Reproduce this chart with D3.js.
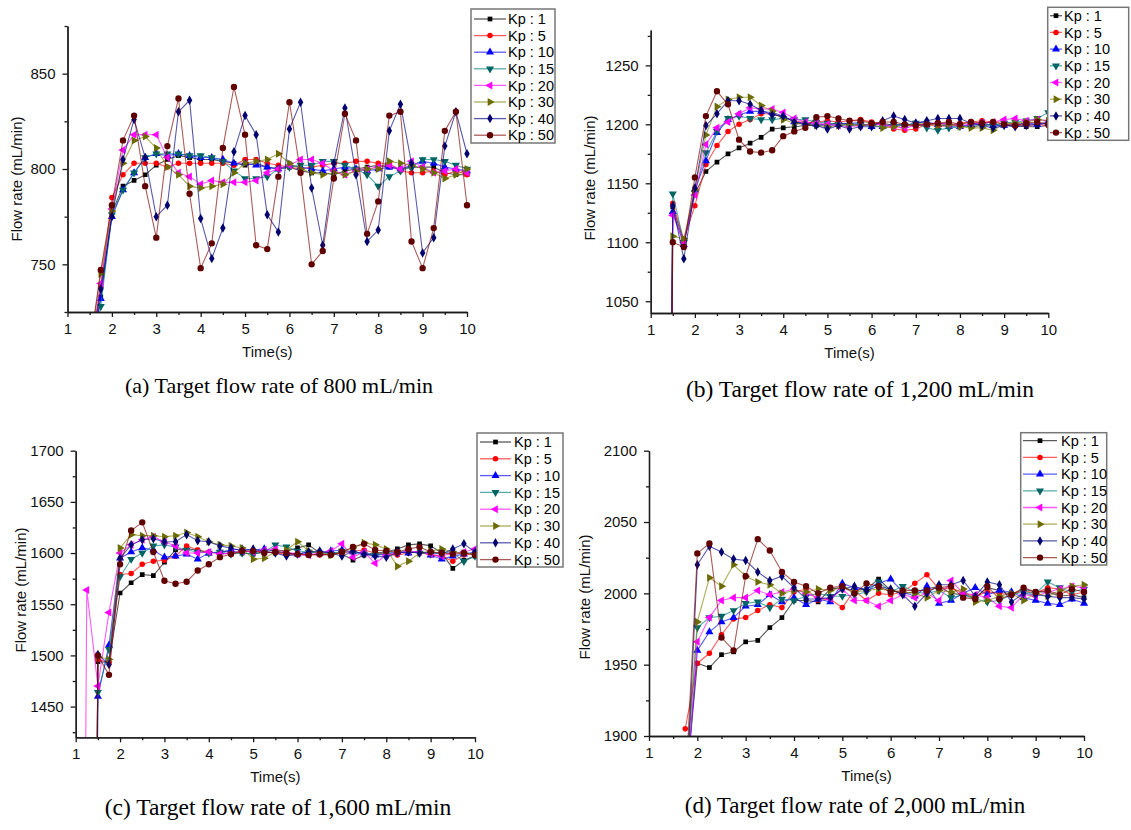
<!DOCTYPE html>
<html>
<head>
<meta charset="utf-8">
<script src="https://cdn.jsdelivr.net/npm/d3@7"></script>
<style>
  body { margin: 0; background: #ffffff; }
  svg { display: block; }
</style>
</head>
<body>
<div id="chart"></div>
<script>
// series names, one per Kp gain
var kpLabels = ["Kp : 1", "Kp : 5", "Kp : 10", "Kp : 15", "Kp : 20", "Kp : 30", "Kp : 40", "Kp : 50"];

// (a) target 800 mL/min
var timeA = [1.5, 1.75, 2, 2.25, 2.5, 2.75, 3, 3.25, 3.5, 3.75, 4, 4.25, 4.5, 4.75, 5, 5.25, 5.5, 5.75,
             6, 6.25, 6.5, 6.75, 7, 7.25, 7.5, 7.75, 8, 8.25, 8.5, 8.75, 9, 9.25, 9.5, 9.75, 10];
var flow800 = [
  [700, 733, 777, 791, 794, 797, 802, 805, 807, 806, 805, 805, 804, 803, 802, 803, 801, 800, 801, 799, 798, 798, 797, 799, 800, 801, 802, 801, 800, 801, 801, 801, 798, 797, 797],
  [702, 738, 785, 797, 803, 803, 803, 801, 803, 803, 803, 803, 803, 802, 805, 805, 803, 802, 801, 800, 801, 802, 803, 803, 804, 804, 803, 803, 799, 798, 798, 799, 797, 799, 797],
  [698, 732, 775, 789, 798, 806, 808, 807, 808, 807, 806, 806, 805, 803, 803, 802, 801, 800, 802, 801, 800, 799, 800, 801, 800, 799, 800, 801, 800, 802, 804, 803, 801, 800, 799],
  [696, 728, 776, 789, 798, 806, 808, 808, 808, 807, 807, 806, 804, 799, 795, 795, 796, 800, 801, 802, 802, 804, 804, 802, 800, 797, 791, 796, 799, 801, 805, 805, 804, 802, 800],
  [703, 740, 779, 810, 818, 818, 818, 806, 798, 796, 792, 794, 793, 793, 793, 794, 798, 800, 802, 805, 805, 803, 799, 797, 799, 800, 801, 802, 800, 804, 801, 798, 799, 800, 798],
  [705, 745, 778, 803, 815, 817, 811, 801, 797, 791, 790, 791, 792, 798, 803, 804, 805, 808, 803, 800, 798, 797, 798, 797, 799, 800, 800, 804, 803, 802, 800, 798, 795, 797, 800],
  [700, 737, 775, 805, 826, 806, 775, 781, 830, 836, 774, 753, 769, 809, 828, 818, 776, 767, 821, 835, 790, 760, 803, 832, 797, 762, 768, 820, 834, 803, 756, 764, 812, 830, 808],
  [706, 747, 781, 815, 828, 791, 764, 812, 837, 787, 748, 761, 811, 843, 818, 760, 758, 796, 835, 798, 750, 757, 795, 829, 815, 766, 783, 828, 830, 762, 748, 769, 820, 830, 781]
];

// (b) target 1,200 mL/min
var timeB = [1.25, 1.5, 1.75, 2, 2.25, 2.5, 2.75, 3, 3.25, 3.5, 3.75, 4, 4.25, 4.5, 4.75, 5, 5.25, 5.5, 5.75,
             6, 6.25, 6.5, 6.75, 7, 7.25, 7.5, 7.75, 8, 8.25, 8.5, 8.75, 9, 9.25, 9.5, 9.75, 10];
var flow1200 = [
  [0, 1130, 1100, 1141, 1160, 1168, 1175, 1180, 1184, 1189, 1196, 1197, 1198, 1199, 1199, 1200, 1201, 1200, 1199, 1200, 1201, 1199, 1200, 1199, 1200, 1201, 1200, 1199, 1198, 1199, 1200, 1199, 1199, 1198, 1198, 1199],
  [0, 1133, 1102, 1131, 1166, 1182, 1194, 1200, 1204, 1209, 1209, 1206, 1203, 1201, 1202, 1203, 1202, 1203, 1204, 1202, 1200, 1196, 1195, 1196, 1200, 1198, 1199, 1201, 1202, 1203, 1202, 1202, 1200, 1199, 1200, 1199],
  [0, 1126, 1098, 1145, 1169, 1193, 1204, 1208, 1211, 1211, 1210, 1207, 1202, 1201, 1200, 1199, 1200, 1201, 1201, 1198, 1198, 1200, 1199, 1201, 1202, 1200, 1198, 1198, 1200, 1201, 1199, 1199, 1200, 1201, 1200, 1201],
  [0, 1141, 1100, 1142, 1176, 1194, 1205, 1207, 1205, 1204, 1204, 1205, 1204, 1204, 1202, 1201, 1200, 1199, 1200, 1199, 1198, 1200, 1199, 1201, 1197, 1195, 1197, 1198, 1199, 1200, 1199, 1201, 1202, 1203, 1205, 1210],
  [0, 1123, 1100, 1140, 1183, 1197, 1202, 1209, 1214, 1213, 1213, 1210, 1205, 1202, 1201, 1200, 1199, 1198, 1199, 1200, 1200, 1198, 1197, 1199, 1200, 1201, 1200, 1199, 1200, 1201, 1202, 1204, 1205, 1203, 1204, 1203],
  [0, 1105, 1103, 1145, 1191, 1215, 1221, 1223, 1223, 1216, 1211, 1204, 1201, 1200, 1199, 1198, 1199, 1200, 1199, 1200, 1197, 1198, 1199, 1200, 1201, 1199, 1200, 1198, 1197, 1197, 1195, 1200, 1201, 1202, 1204, 1203],
  [0, 1131, 1086, 1146, 1199, 1209, 1220, 1220, 1217, 1212, 1208, 1207, 1202, 1200, 1199, 1196, 1199, 1196, 1198, 1198, 1203, 1207, 1204, 1201, 1203, 1205, 1205, 1205, 1201, 1199, 1197, 1199, 1198, 1199, 1200, 1202],
  [0, 1100, 1096, 1155, 1207, 1228, 1217, 1187, 1177, 1176, 1178, 1190, 1194, 1197, 1206, 1207, 1205, 1203, 1203, 1201, 1202, 1202, 1200, 1199, 1200, 1201, 1202, 1200, 1202, 1201, 1202, 1200, 1199, 1201, 1202, 1200]
];

// (c) target 1,600 mL/min
var timeC = [1, 1.25, 1.5, 1.75, 2, 2.25, 2.5, 2.75, 3, 3.25, 3.5, 3.75, 4, 4.25, 4.5, 4.75, 5, 5.25, 5.5, 5.75,
             6, 6.25, 6.5, 6.75, 7, 7.25, 7.5, 7.75, 8, 8.25, 8.5, 8.75, 9, 9.25, 9.5, 9.75, 10];
var flow1600 = [
  [0, 0, 1494, 1493, 1561, 1571, 1579, 1578, 1591, 1603, 1604, 1603, 1600, 1601, 1602, 1600, 1599, 1601, 1603, 1602, 1605, 1608, 1600, 1601, 1599, 1593, 1598, 1600, 1601, 1604, 1608, 1609, 1607, 1600, 1585, 1593, 1597],
  [0, 0, 1496, 1493, 1579, 1580, 1589, 1592, 1593, 1597, 1607, 1603, 1601, 1600, 1599, 1601, 1602, 1601, 1600, 1599, 1598, 1599, 1598, 1599, 1600, 1602, 1603, 1600, 1599, 1598, 1600, 1601, 1598, 1597, 1592, 1598, 1600],
  [0, 0, 1460, 1510, 1595, 1601, 1605, 1603, 1596, 1597, 1599, 1594, 1600, 1601, 1603, 1604, 1603, 1604, 1602, 1600, 1599, 1601, 1600, 1602, 1603, 1601, 1600, 1598, 1599, 1601, 1600, 1602, 1598, 1594, 1597, 1599, 1601],
  [0, 0, 1464, 1506, 1577, 1594, 1600, 1607, 1608, 1606, 1603, 1601, 1600, 1601, 1599, 1600, 1599, 1601, 1608, 1606, 1602, 1601, 1600, 1599, 1602, 1600, 1599, 1598, 1600, 1601, 1602, 1600, 1599, 1601, 1600, 1592, 1597],
  [0, 1564, 1470, 1542, 1600, 1608, 1613, 1616, 1611, 1607, 1600, 1600, 1601, 1599, 1600, 1602, 1601, 1603, 1604, 1601, 1599, 1598, 1600, 1602, 1609, 1596, 1601, 1590, 1598, 1600, 1602, 1601, 1599, 1597, 1600, 1601, 1604],
  [0, 0, 1499, 1496, 1605, 1618, 1617, 1617, 1616, 1617, 1620, 1616, 1611, 1608, 1607, 1605, 1594, 1595, 1601, 1603, 1611, 1602, 1600, 1598, 1601, 1605, 1610, 1608, 1604, 1587, 1592, 1600, 1602, 1604, 1601, 1600, 1599],
  [0, 0, 1501, 1491, 1595, 1608, 1613, 1614, 1611, 1611, 1618, 1612, 1611, 1607, 1605, 1602, 1604, 1601, 1600, 1597, 1599, 1601, 1602, 1600, 1597, 1602, 1599, 1597, 1596, 1600, 1601, 1600, 1601, 1599, 1604, 1609, 1601],
  [0, 0, 1500, 1481, 1589, 1622, 1630, 1601, 1573, 1570, 1572, 1583, 1589, 1596, 1599, 1602, 1602, 1600, 1601, 1600, 1599, 1598, 1599, 1598, 1601, 1606, 1609, 1603, 1602, 1601, 1604, 1606, 1601, 1600, 1599, 1600, 1598]
];

// (d) target 2,000 mL/min
var timeD = [1.75, 2, 2.25, 2.5, 2.75, 3, 3.25, 3.5, 3.75, 4, 4.25, 4.5, 4.75, 5, 5.25, 5.5, 5.75,
             6, 6.25, 6.5, 6.75, 7, 7.25, 7.5, 7.75, 8, 8.25, 8.5, 8.75, 9, 9.25, 9.5, 9.75, 10];
var flow2000 = [
  [1860, 1951, 1948, 1957, 1959, 1966, 1967, 1976, 1983, 1995, 1995, 1994, 2003, 2004, 2002, 2003, 2010, 2002, 2000, 2001, 2003, 2005, 2000, 1999, 1997, 2004, 2002, 1999, 2003, 2001, 2001, 1998, 1999, 1997],
  [1905, 1951, 1958, 1971, 1982, 1983, 1988, 1992, 1990, 2001, 2003, 1995, 1996, 1990, 2002, 1995, 2000, 1999, 2001, 2007, 2013, 2003, 2004, 2000, 1998, 2001, 2000, 1999, 2002, 2000, 2004, 2003, 1999, 2001],
  [1855, 1960, 1973, 1980, 1983, 1991, 1992, 1999, 1994, 1997, 1992, 1996, 1994, 2007, 2004, 2003, 2007, 2010, 2001, 1998, 2005, 1993, 1995, 2000, 2004, 1999, 2002, 2001, 1997, 1995, 1993, 1992, 1996, 1993],
  [1862, 1976, 1983, 1984, 1988, 1993, 1994, 1990, 1996, 1995, 1998, 2000, 1998, 1998, 1999, 2001, 2008, 2001, 2005, 2001, 2000, 2002, 1997, 1999, 1996, 1994, 1995, 1999, 2001, 2000, 2008, 2004, 2001, 2003],
  [1850, 1966, 1983, 1995, 1997, 1997, 2002, 1999, 2001, 2003, 2000, 1997, 1996, 2003, 1995, 1995, 1991, 1995, 1999, 1997, 2000, 1995, 2009, 2000, 1999, 1997, 1991, 1990, 1999, 1998, 2001, 2003, 2005, 2004],
  [1865, 1980, 2011, 2005, 2020, 2012, 2008, 2006, 2000, 2002, 2001, 2003, 2002, 2004, 2001, 2002, 2003, 2002, 2001, 2000, 1997, 2002, 2001, 2003, 1994, 1995, 1998, 2000, 1995, 2000, 1998, 2002, 2005, 2006],
  [1845, 2020, 2033, 2029, 2024, 2023, 2015, 2009, 2012, 2004, 1996, 1996, 1997, 2003, 2005, 2002, 2005, 2003, 1999, 1991, 2000, 2006, 2006, 2009, 1998, 2008, 2006, 1994, 2000, 1999, 1998, 1997, 1997, 1996],
  [1860, 2028, 2035, 1969, 1960, 2012, 2038, 2030, 2015, 2008, 2005, 2000, 2004, 2005, 2000, 2007, 2005, 2001, 2002, 2002, 2002, 2004, 2005, 1997, 1996, 2005, 1996, 1999, 2004, 2001, 2002, 1999, 2003, 2001]
];

// axis ticks
var xTicks = [1, 2, 3, 4, 5, 6, 7, 8, 9, 10];
var xMinor = [1.5, 2.5, 3.5, 4.5, 5.5, 6.5, 7.5, 8.5, 9.5];
var yTicksA = [750, 800, 850];
var yMinorA = [725, 775, 825, 875];
var yTicksB = [1050, 1100, 1150, 1200, 1250];
var yMinorB = [1075, 1125, 1175, 1225, 1275];
var yTicksC = [1450, 1500, 1550, 1600, 1650, 1700];
var yMinorC = [1425, 1475, 1525, 1575, 1625, 1675];
var yTicksD = [1900, 1950, 2000, 2050, 2100];
var yMinorD = [1925, 1975, 2025, 2075];

var lineColors = ["#000000", "#ff0000", "#0000ff", "#008080", "#ff00ff", "#808000", "#000080", "#800000"];
var markColors = ["#000000", "#ff0000", "#0000ff", "#006464", "#ff00ff", "#6b6b00", "#000070", "#600000"];
var markShapes = [
  {type: d3.symbolSquare, size: 22, rot: 0},
  {type: d3.symbolCircle, size: 24, rot: 0},
  {type: d3.symbolTriangle, size: 28, rot: 0},
  {type: d3.symbolTriangle, size: 28, rot: 180},
  {type: d3.symbolTriangle, size: 28, rot: -90},
  {type: d3.symbolTriangle, size: 28, rot: 90},
  {type: d3.symbolDiamond, size: 26, rot: 0},
  {type: d3.symbolCircle, size: 32, rot: 0}
];

var panels = [
  {times: timeA, series: flow800, yDomain: [725, 875], yTicks: yTicksA, yMinor: yMinorA,
   left: 67.5, right: 467, bottom: 312, top: 26,
   legend: {x: 471, y: 9, w: 84, h: 134, l0: 474, l1: 506, tx: 508, row0: 19, step: 16.6},
   titleX: 17, titleY: 179, caption: "(a) Target flow rate of 800 mL/min", capX: 279, capY: 393, capSize: 22},
  {times: timeB, series: flow1200, yDomain: [1040, 1280], yTicks: yTicksB, yMinor: yMinorB,
   left: 650.7, right: 1048.3, bottom: 313, top: 30,
   legend: {x: 1047.7, y: 7.3, w: 81, h: 133, l0: 1050, l1: 1062, tx: 1064, row0: 15.7, step: 16.7},
   titleX: 590, titleY: 178, caption: "(b) Target flow rate of 1,200 mL/min", capX: 860, capY: 397, capSize: 23.5},
  {times: timeC, series: flow1600, yDomain: [1420, 1700], yTicks: yTicksC, yMinor: yMinorC,
   left: 75.7, right: 475, bottom: 737.3, top: 450.7,
   legend: {x: 477, y: 433, w: 86, h: 134, l0: 480, l1: 511, tx: 514, row0: 442, step: 16.8},
   titleX: 21, titleY: 590, caption: "(c) Target flow rate of 1,600 mL/min", capX: 278, capY: 815, capSize: 23.5},
  {times: timeD, series: flow2000, yDomain: [1900, 2100], yTicks: yTicksD, yMinor: yMinorD,
   left: 649, right: 1084, bottom: 736, top: 450.7,
   legend: {x: 1020.7, y: 432.7, w: 86, h: 132.3, l0: 1023, l1: 1057, tx: 1061, row0: 440.7, step: 16.7},
   titleX: 585, titleY: 597, caption: "(d) Target flow rate of 2,000 mL/min", capX: 855, capY: 813, capSize: 23}
];

var svg = d3.select("#chart")
            .append("svg")
            .attr("width", 1131)
            .attr("height", 830);

function symbolPath(i) {
  return d3.symbol().type(markShapes[i].type).size(markShapes[i].size)();
}

var sansFont = "Arial, 'Liberation Sans', sans-serif";

panels.forEach(function(p, pi) {
  var x = d3.scaleLinear().domain([1, 10]).range([p.left, p.right]);
  var y = d3.scaleLinear().domain(p.yDomain).range([p.bottom, p.top]);

  var g = svg.append("g");

  svg.append("clipPath")
     .attr("id", "clip" + pi)
     .append("rect")
     .attr("x", p.left)
     .attr("y", p.top)
     .attr("width", p.right - p.left + 4)
     .attr("height", p.bottom - p.top);

  var plot = g.append("g").attr("clip-path", "url(#clip" + pi + ")");

  var line = d3.line()
               .x(function(d) { return x(d[0]); })
               .y(function(d) { return y(d[1]); });

  p.series.forEach(function(vals, si) {
    var pts = vals.map(function(v, k) { return [p.times[k], v]; });
    plot.append("path")
        .datum(pts)
        .attr("d", line)
        .attr("fill", "none")
        .attr("stroke", lineColors[si])
        .attr("stroke-opacity", 0.65)
        .attr("stroke-width", 1.1);
    plot.selectAll(null)
        .data(pts)
        .enter()
        .append("path")
        .attr("d", symbolPath(si))
        .attr("transform", function(d) {
          return "translate(" + x(d[0]) + "," + y(d[1]) + ") rotate(" + markShapes[si].rot + ")";
        })
        .attr("fill", markColors[si]);
  });

  // axes, major and minor ticks
  g.append("g")
   .attr("transform", "translate(0," + p.bottom + ")")
   .call(d3.axisBottom(x).tickValues(xTicks).tickFormat(d3.format("d"))
           .tickSize(5).tickPadding(6).tickSizeOuter(0));
  g.append("g")
   .attr("transform", "translate(0," + p.bottom + ")")
   .call(d3.axisBottom(x).tickValues(xMinor).tickSize(3).tickFormat("").tickSizeOuter(0));
  g.append("g")
   .attr("transform", "translate(" + p.left + ",0)")
   .call(d3.axisLeft(y).tickValues(p.yTicks).tickFormat(d3.format("d"))
           .tickSize(5).tickPadding(7).tickSizeOuter(0));
  g.append("g")
   .attr("transform", "translate(" + p.left + ",0)")
   .call(d3.axisLeft(y).tickValues(p.yMinor).tickSize(3).tickFormat("").tickSizeOuter(0));

  g.selectAll(".domain, .tick line")
   .attr("stroke", "#1a1a1a")
   .attr("stroke-width", 1.3);
  g.selectAll(".tick text")
   .attr("fill", "#111")
   .style("font-family", sansFont)
   .style("font-size", "15px");

  g.append("text")
   .attr("x", (p.left + p.right) / 2)
   .attr("y", p.bottom + 45)
   .attr("text-anchor", "middle")
   .style("font-family", sansFont)
   .style("font-size", "15px")
   .attr("fill", "#111")
   .text("Time(s)");

  g.append("text")
   .attr("transform", "translate(" + p.titleX + "," + p.titleY + ") rotate(-90)")
   .attr("text-anchor", "middle")
   .attr("dy", "0.35em")
   .style("font-family", sansFont)
   .style("font-size", "15px")
   .attr("fill", "#111")
   .text("Flow rate (mL/min)");

  g.append("text")
   .attr("x", p.capX)
   .attr("y", p.capY)
   .attr("text-anchor", "middle")
   .style("font-family", "'Liberation Serif', 'Times New Roman', serif")
   .style("font-size", p.capSize + "px")
   .attr("fill", "#000")
   .text(p.caption);

  // legend
  var L = p.legend;
  var leg = g.append("g");
  leg.append("rect")
     .attr("x", L.x)
     .attr("y", L.y)
     .attr("width", L.w)
     .attr("height", L.h)
     .attr("fill", "#fff")
     .attr("stroke", "#777")
     .attr("stroke-width", 1.5);
  kpLabels.forEach(function(lab, si) {
    var ry = L.row0 + si * L.step;
    leg.append("line")
       .attr("x1", L.l0).attr("x2", L.l1)
       .attr("y1", ry).attr("y2", ry)
       .attr("stroke", lineColors[si])
       .attr("stroke-opacity", 0.65)
       .attr("stroke-width", 1.3);
    leg.append("path")
       .attr("d", symbolPath(si))
       .attr("transform", "translate(" + ((L.l0 + L.l1) / 2) + "," + ry + ") rotate(" + markShapes[si].rot + ")")
       .attr("fill", markColors[si]);
    leg.append("text")
       .attr("x", L.tx)
       .attr("y", ry)
       .attr("dy", "0.36em")
       .style("font-family", sansFont)
       .style("font-size", "14.5px")
       .attr("fill", "#000")
       .text(lab);
  });
});
</script>
</body>
</html>
